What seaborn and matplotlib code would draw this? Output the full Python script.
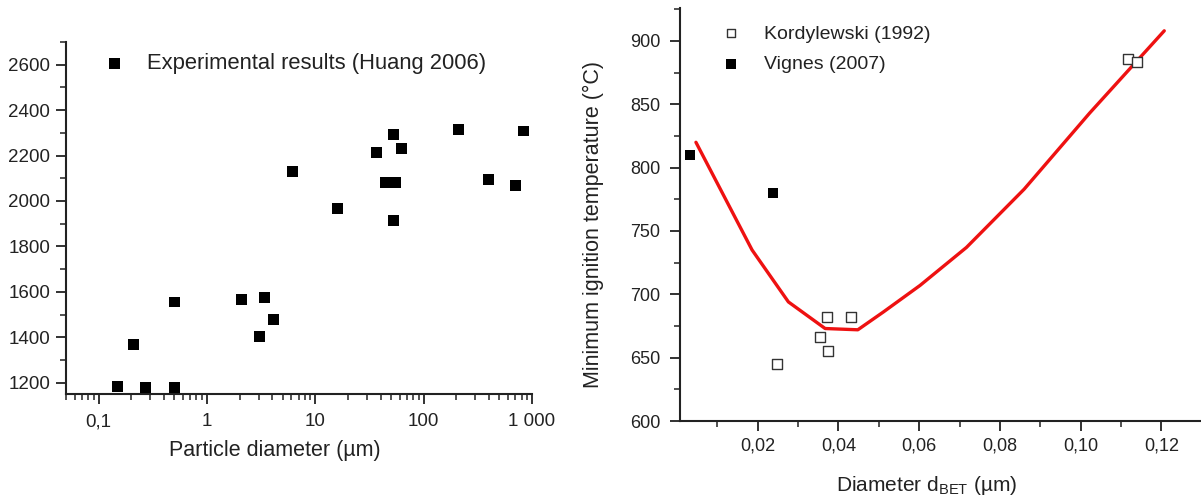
import numpy as np
import pandas as pd
import matplotlib
matplotlib.use("Agg")
import matplotlib.pyplot as plt
from matplotlib.ticker import FixedLocator, MultipleLocator, LogLocator, NullFormatter
import seaborn as sns

# left panel: Huang 2006, particle diameter (um) vs temperature
huang_d = [0.15, 0.21, 0.27, 0.5, 0.5, 2.1, 3.05, 3.4, 4.1, 6.1, 16, 37,
           44.7, 54.8, 53, 53, 62, 208, 400, 700, 830]
huang_t = [1185, 1369, 1177, 1555, 1177, 1565, 1402, 1574, 1478, 2128, 1965, 2214,
           2081, 2081, 2293, 1914, 2229, 2316, 2096, 2068, 2308]
left_xticks = [0.1, 1, 10, 100, 1000]
left_xticklabels = ["0,1", "1", "10", "100", "1 000"]
left_yticks = [1200, 1400, 1600, 1800, 2000, 2200, 2400, 2600]

# right panel: minimum ignition temperature vs BET diameter
kord_d = [0.0249, 0.0355, 0.0372, 0.0374, 0.0430, 0.1117, 0.1139]
kord_t = [645, 666.5, 682, 655.5, 682, 886, 883]
vign_d = [0.0032, 0.0237]
vign_t = [810, 780]
model_d = [0.0047, 0.0186, 0.0276, 0.0367, 0.0448, 0.0511, 0.0602, 0.0717, 0.086, 0.1022, 0.1207]
model_t = [820, 735, 694, 673, 672, 686, 707, 737, 783, 843, 908]
right_xticks = [0.02, 0.04, 0.06, 0.08, 0.10, 0.12]
right_xticklabels = ["0,02", "0,04", "0,06", "0,08", "0,10", "0,12"]
right_yticks = [600, 650, 700, 750, 800, 850, 900]

sns.set_theme(style="ticks")
plt.rcParams["font.family"] = ["Liberation Sans", "DejaVu Sans"]
plt.rcParams["axes.edgecolor"] = "#222222"
plt.rcParams["xtick.color"] = "#222222"
plt.rcParams["ytick.color"] = "#222222"
plt.rcParams["text.color"] = "#222222"
plt.rcParams["axes.labelcolor"] = "#222222"

W, H = 1201, 497
fig = plt.figure(figsize=(W / 100, H / 100), dpi=100)
ax1 = fig.add_axes([66 / W, 1 - 394 / H, (532 - 66) / W, (394 - 42) / H])
ax2 = fig.add_axes([680 / W, 1 - 421 / H, (W - 680) / W, (421 - 8) / H])

### left panel
df_huang = pd.DataFrame({"d": huang_d, "t": huang_t})
sns.scatterplot(data=df_huang, x="d", y="t", marker="s", s=62, color="black",
                edgecolor="none", label="Experimental results (Huang 2006)", ax=ax1)
ax1.set_xscale("log")
ax1.set_xlim(0.05, 1000)
ax1.set_ylim(1150, 2700)
ax1.xaxis.set_major_locator(FixedLocator(left_xticks))
ax1.set_xticklabels(left_xticklabels)
ax1.xaxis.set_minor_locator(LogLocator(base=10, subs=np.arange(2, 10)))
ax1.xaxis.set_minor_formatter(NullFormatter())
ax1.yaxis.set_major_locator(FixedLocator(left_yticks))
ax1.yaxis.set_minor_locator(MultipleLocator(100))
ax1.set_xlabel("Particle diameter (µm)", fontsize=15.5)
ax1.set_ylabel("")
ax1.xaxis.set_label_coords((275 - 66) / 466, (394 - 440) / 352)
ax1.tick_params(axis="both", which="major", direction="out", length=7, width=1.3, labelsize=13.5)
ax1.tick_params(axis="both", which="minor", direction="out", length=4, width=1.1)
ax1.tick_params(axis="x", which="major", pad=7)
ax1.tick_params(axis="y", which="major", pad=4.3)
for side in ["top", "right"]:
    ax1.spines[side].set_visible(False)
for side in ["left", "bottom"]:
    ax1.spines[side].set_linewidth(1.5)
ax1.legend(loc="center left", bbox_to_anchor=(93 / W, 1 - 64 / H), bbox_transform=fig.transFigure,
           frameon=False, fontsize=15.8, handlelength=2.0, handletextpad=0.46,
           borderpad=0, borderaxespad=0)

### right panel
df_kord = pd.DataFrame({"d": kord_d, "t": kord_t})
df_vign = pd.DataFrame({"d": vign_d, "t": vign_t})
df_model = pd.DataFrame({"d": model_d, "t": model_t})
sns.lineplot(data=df_model, x="d", y="t", sort=False, color="#ee1111", linewidth=2.4, ax=ax2)
sns.scatterplot(data=df_kord, x="d", y="t", marker="s", s=45, facecolor="white",
                edgecolor="#333333", linewidth=1.0, label="Kordylewski (1992)", ax=ax2, zorder=3)
sns.scatterplot(data=df_vign, x="d", y="t", marker="s", s=52, color="black",
                edgecolor="none", label="Vignes (2007)", ax=ax2, zorder=3)
ax2.set_xlim(0.00075, 0.1298)
ax2.set_ylim(600, 926)
ax2.xaxis.set_major_locator(FixedLocator(right_xticks))
ax2.set_xticklabels(right_xticklabels)
ax2.xaxis.set_minor_locator(MultipleLocator(0.01))
ax2.yaxis.set_major_locator(FixedLocator(right_yticks))
ax2.yaxis.set_minor_locator(MultipleLocator(25))
ax2.set_xlabel(r"Diameter d$_\mathregular{BET}$ (µm)", fontsize=15)
ax2.set_ylabel("Minimum ignition temperature (°C)", fontsize=15.5)
ax2.xaxis.set_label_coords((927 - 680) / 521, (421 - 474) / 413)
ax2.yaxis.set_label_coords((604 - 680) / 521, (421 - 224) / 413)
ax2.tick_params(axis="both", which="major", direction="out", length=7, width=1.3, labelsize=13)
ax2.tick_params(axis="both", which="minor", direction="out", length=4, width=1.1)
ax2.tick_params(axis="x", which="major", pad=4.7)
ax2.tick_params(axis="y", which="major", pad=7)
for side in ["top", "right"]:
    ax2.spines[side].set_visible(False)
for side in ["left", "bottom"]:
    ax2.spines[side].set_linewidth(1.5)
ax2.legend(loc="center left", bbox_to_anchor=(711.6 / W, 1 - 49 / H), bbox_transform=fig.transFigure,
           frameon=False, fontsize=14, handlelength=2.0, handletextpad=0.7,
           borderpad=0, borderaxespad=0, labelspacing=0.66, markerscale=0.95)

plt.savefig("out.png", dpi=100)
